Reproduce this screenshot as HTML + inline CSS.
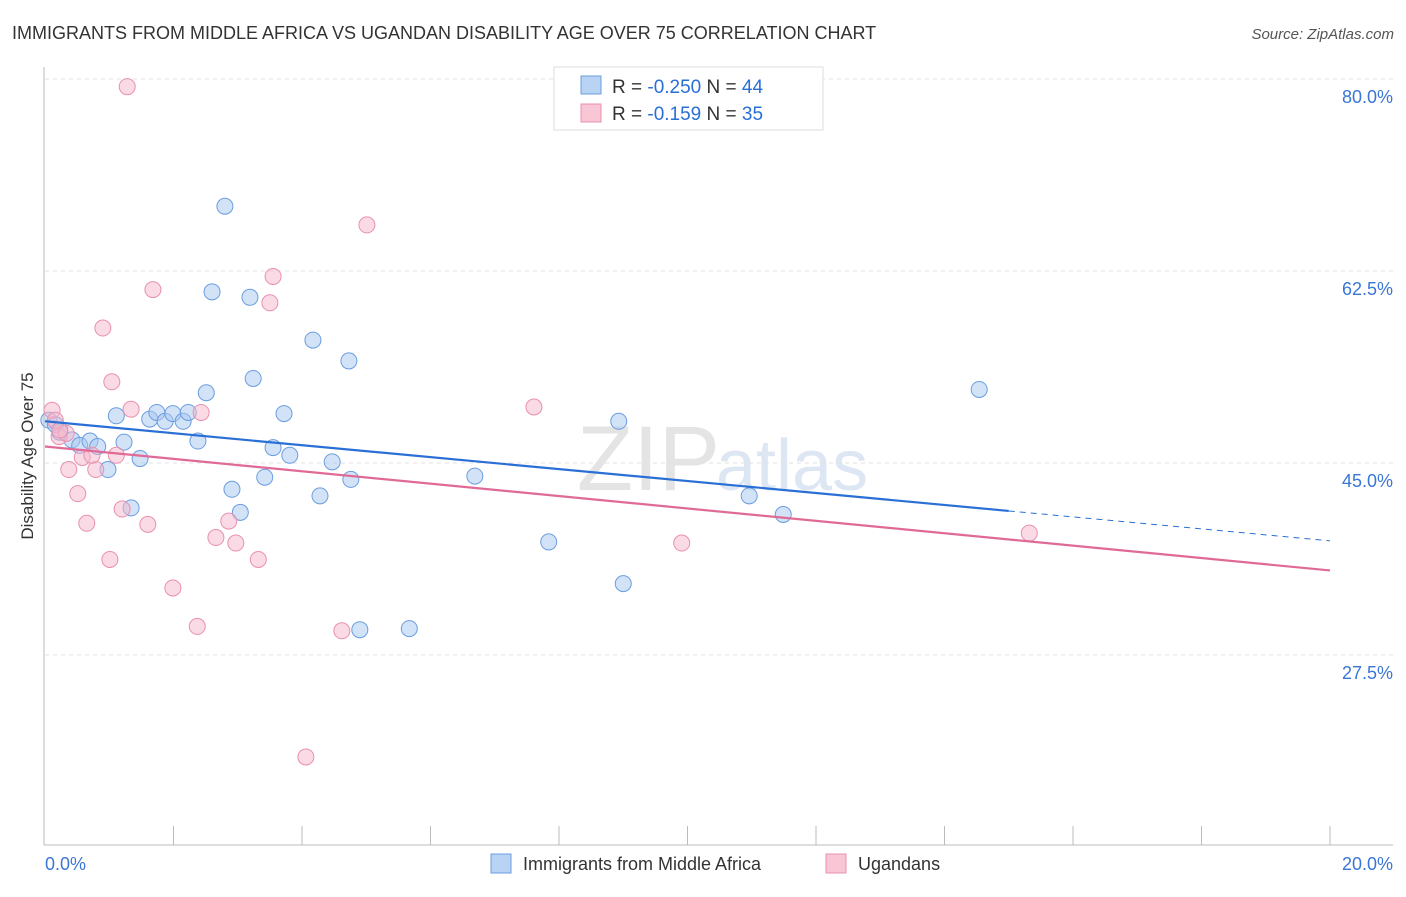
<!DOCTYPE html>
<html><head><meta charset="utf-8"><style>
body{margin:0;background:#fff;font-family:"Liberation Sans",sans-serif}
svg text{font-family:"Liberation Sans",sans-serif}
</style></head><body>
<svg id="chart" width="1406" height="892" xmlns="http://www.w3.org/2000/svg">
<text x="12" y="39" font-size="18" fill="#333">IMMIGRANTS FROM MIDDLE AFRICA VS UGANDAN DISABILITY AGE OVER 75 CORRELATION CHART</text>
<text x="1394" y="39" font-size="15" fill="#555" text-anchor="end" font-style="italic">Source: ZipAtlas.com</text>
<text x="720" y="490" font-size="92" fill="#e4e4e4" text-anchor="end" font-family="Liberation Serif">ZIP</text>
<text x="716" y="490" font-size="72" fill="#dde6f3">atlas</text>
<g id="grid"></g>
<g id="axes"></g>
<g id="marks"></g>
<text transform="translate(33,456) rotate(-90)" font-size="17" fill="#333" text-anchor="middle">Disability Age Over 75</text>
<g>
<rect x="554" y="67" width="269" height="63" fill="#fff" stroke="#ddd"/>
<rect x="581" y="76" width="20" height="18" fill="#b9d3f5" stroke="#6a9de0"/>
<rect x="581" y="104" width="20" height="18" fill="#f9c6d6" stroke="#e890b0"/>
<text x="612" y="93" font-size="19" fill="#333">R = <tspan fill="#2a6fd6">-0.250</tspan>   N = <tspan fill="#2a6fd6">44</tspan></text>
<text x="612" y="120" font-size="19" fill="#333">R =  <tspan fill="#2a6fd6">-0.159</tspan>   N =  <tspan fill="#2a6fd6">35</tspan></text>
</g>
<g>
<rect x="491" y="854" width="20" height="19" fill="#b9d3f5" stroke="#6a9de0"/>
<text x="523" y="870" font-size="18" fill="#333">Immigrants from Middle Africa</text>
<rect x="826" y="854" width="20" height="19" fill="#f9c6d6" stroke="#e890b0"/>
<text x="858" y="870" font-size="18" fill="#333">Ugandans</text>
</g>
</svg>
<script>
const blueX=[0.06,0.16,0.23,0.42,0.54,0.70,0.82,0.98,1.11,1.23,1.34,1.48,1.63,1.74,1.87,1.99,2.15,2.23,2.38,2.51,2.60,2.80,2.91,3.04,3.19,3.24,3.42,3.55,3.72,3.81,4.17,4.28,4.47,4.73,4.76,4.90,5.67,6.69,7.84,8.93,9.00,10.96,11.49,14.54];
const blueY=[48.9,48.5,47.8,47.1,46.6,47.0,46.5,44.4,49.3,46.9,40.9,45.4,49.0,49.6,48.8,49.5,48.8,49.6,47.0,51.4,60.6,68.4,42.6,40.5,60.1,52.7,43.7,46.4,49.5,45.7,56.2,42.0,45.1,54.3,43.5,29.8,29.9,43.8,37.8,48.8,34.0,42.0,40.3,51.7];
const pinkX=[0.11,0.16,0.22,0.33,0.37,0.51,0.58,0.65,0.79,0.90,1.01,1.04,1.11,1.20,1.28,1.34,1.60,1.68,1.99,2.37,2.43,2.66,2.86,2.97,3.32,3.50,3.55,4.06,4.62,5.01,7.61,9.91,15.32,0.73,0.23];
const pinkY=[49.8,48.9,47.4,47.7,44.4,42.2,45.5,39.5,44.4,57.3,36.2,52.4,45.7,40.8,79.3,49.9,39.4,60.8,33.6,30.1,49.6,38.2,39.7,37.7,36.2,59.6,62.0,18.2,29.7,66.7,50.1,37.7,38.6,45.7,48.0];
const yTicks=[80,62.5,45,27.5];
const yTickLabels=["80.0%","62.5%","45.0%","27.5%"];
const xTickLabels=["0.0%","20.0%"];
const blueLine=[48.8,37.9]; // y at x=0 and x=20
const blueSolidEnd=15.0;
const pinkLine=[46.5,35.2];
const NS="http://www.w3.org/2000/svg";
const sx=v=>45+v*64.25, sy=v=>79+(80-v)*10.97;
function mk(p,t,a){const e=document.createElementNS(NS,t);for(const k in a)e.setAttribute(k,a[k]);document.getElementById(p).appendChild(e);return e;}
yTicks.forEach((t,i)=>{
 const l=mk('grid','line',{x1:45,x2:1393,y1:sy(t),y2:sy(t),stroke:'#e2e2e2','stroke-dasharray':'4,4'});
 
 
 const tx=mk('axes','text',{x:1393,y:sy(t)+24,'font-size':18,fill:'#3a76d6','text-anchor':'end'});tx.textContent=yTickLabels[i];
 
 
});
mk('axes','line',{x1:44,x2:44,y1:67,y2:845,stroke:'#bbb'});
mk('axes','line',{x1:44,x2:1393,y1:845,y2:845,stroke:'#bbb'});
for(let i=1;i<=10;i++){const t=mk('axes','line',{x1:sx(i*2),x2:sx(i*2),y1:826,y2:845,stroke:'#bbb'});
 
 }
const x0=mk('axes','text',{x:45,y:870,'font-size':18,fill:'#3a76d6'});x0.textContent=xTickLabels[0];


const x1=mk('axes','text',{x:1393,y:870,'font-size':18,fill:'#3a76d6','text-anchor':'end'});x1.textContent=xTickLabels[1];


blueX.forEach((x,i)=>{const c=mk('marks','circle',{cx:sx(x),cy:sy(blueY[i]),r:8,fill:'rgba(168,200,240,0.5)',stroke:'#6a9de0','stroke-width':1});
 
 });
pinkX.forEach((x,i)=>{const c=mk('marks','circle',{cx:sx(x),cy:sy(pinkY[i]),r:8,fill:'rgba(245,184,204,0.5)',stroke:'#e890b0','stroke-width':1});
 
 });
const by=x=>blueLine[0]+(blueLine[1]-blueLine[0])*x/20;
const bl=mk('marks','line',{x1:sx(0),y1:sy(by(0)),x2:sx(blueSolidEnd),y2:sy(by(blueSolidEnd)),stroke:'#2a6fd6','stroke-width':2.2});


const bd=mk('marks','line',{x1:sx(blueSolidEnd),y1:sy(by(blueSolidEnd)),x2:sx(20),y2:sy(by(20)),stroke:'#2a6fd6','stroke-width':1,'stroke-dasharray':'6,5'});


const pl=mk('marks','line',{x1:sx(0),y1:sy(pinkLine[0]),x2:sx(20),y2:sy(pinkLine[1]),stroke:'#e06a96','stroke-width':2.2});


</script>
</body></html>
